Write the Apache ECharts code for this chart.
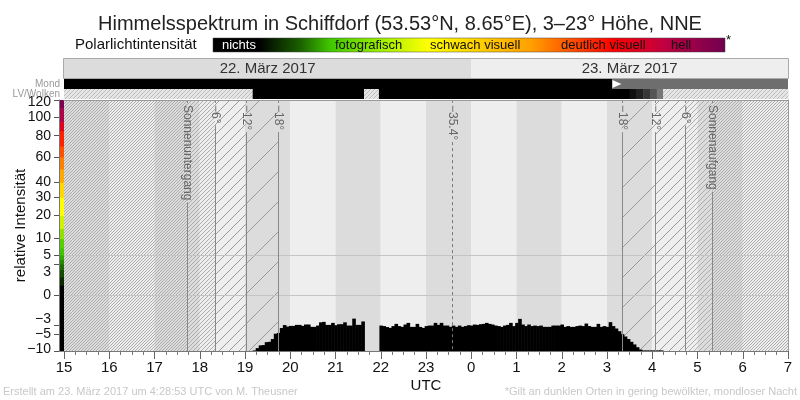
<!DOCTYPE html>
<html>
<head>
<meta charset="utf-8">
<script src="https://cdn.jsdelivr.net/npm/echarts@6/dist/echarts.min.js"></script>
<style>
html, body { margin: 0; padding: 0; background: #fff; }
#chart { width: 800px; height: 400px; }
</style>
</head>
<body>
<div id="chart"></div>
<script>
// ---- Daten ----
const hourTicks = [15, 16, 17, 18, 19, 20, 21, 22, 23, 24, 25, 26, 27, 28, 29, 30, 31];
const yTicks = [-10, -5, -3, 0, 3, 5, 10, 20, 30, 40, 60, 80, 100, 120];
const guideValues = [0, 5];

// Messwerte: 4-Minuten-Intervalle ab 19:10 UTC (null = Lücke)
const binStart = 19.17;
const binHours = 1 / 15;
const intensity = [
  -9.8, -9.0, -8.1, -8.0, -7.1, -7.0, -6.2, -4.8, -4.6, -3.5,
  -2.9, -3.2, -3.06, -3.06, -2.87, -2.87, -3.06, -2.8, -2.8, -3.26,
  -3.26, -3.0, -2.4, -2.32, -2.87, -2.87, -2.5, -2.93, -2.74, -2.74,
  -2.4, -3.0, -3.0, -1.8, -2.87, -2.87, -2.25, null, null, null,
  null, null, -3.0, -3.1, -3.3, -3.47, -3.1, -2.68, -3.1, -3.26,
  -2.8, -2.5, -3.26, -3.26, -2.68, -3.26, -3.47, -3.1, -3.0, -3.0,
  -2.5, -2.87, -2.5, -3.0, -3.0, -3.26, -3.0, -3.26, -3.0, -3.26,
  -3.1, -2.93, -3.0, -2.8, -2.87, -2.74, -2.68, -2.5, -2.68, -2.8,
  -3.0, -3.1, -3.26, -3.0, -2.87, -2.5, -3.1, -2.5, -1.84, -2.8,
  -3.1, -2.8, -3.1, -3.0, -3.1, -3.0, -3.26, -3.26, -3.26, -3.0,
  -3.0, -3.0, -2.8, -3.26, -3.1, -3.26, -3.26, -3.1, -3.0, -3.1,
  -2.62, -3.1, -3.26, -3.26, -2.68, -3.26, -3.1, -3.26, -2.37, -3.1,
  -3.6, -4.2, -4.9, -5.5, -6.2, -7.0, -7.8, -8.7, -9.5, -9.8,
  -9.8, -9.8, -9.8, -9.8, -9.8, -9.8
];

// Sonnenstand (Stunden ab 0 Uhr des 22.)
const sunEvents = [
  [17.725, 'Sonnenuntergang', false],
  [18.337, '\u22126\u00b0', false],
  [19.015, '\u221212\u00b0', false],
  [19.737, '\u221218\u00b0', false],
  [23.568, '\u221235.4\u00b0', true],
  [27.325, '\u221218\u00b0', false],
  [28.06, '\u221212\u00b0', false],
  [28.73, '\u22126\u00b0', false],
  [29.327, 'Sonnenaufgang', false]
];
// Schraffur: [von, bis, Linienabstand]
const hatchZones = [
  [15, 17.725, 3], [17.725, 18.337, 4], [18.337, 19.015, 10], [19.015, 19.737, 30],
  [27.325, 28.06, 30], [28.06, 28.73, 10], [28.73, 29.327, 5], [29.327, 31, 3]
];

const dateSegments = [[15, 24, '22. M\u00e4rz 2017', '#dcdcdc'], [24, 31, '23. M\u00e4rz 2017', '#eeeeee']];
const moonSegments = [[15, 27.12, '#000000'], [27.12, 31, '#6e6e6e']];
const moonRise = 27.12;
// LV/Wolken: [von, bis, Farbe] (null = keine Daten, schraffiert)
const lvSegments = [
  [15, 19.17, null], [19.17, 21.63, '#000000'], [21.63, 21.96, null],
  [21.96, 27.5, '#000000'], [27.5, 27.65, '#101010'], [27.65, 27.8, '#222222'],
  [27.8, 27.95, '#383838'], [27.95, 28.1, '#555555'], [28.1, 28.24, '#777777'],
  [28.24, 31, null]
];

// Farbskala der Intensität: [von, bis, Farbe]
const scaleSteps = [
  [-10, 0.3, '#000000'], [0.3, 1, '#0a2800'], [1, 2, '#124a00'], [2, 3, '#1c6a00'],
  [3, 4, '#268a00'], [4, 5, '#30a800'], [5, 7, '#40c400'], [7, 10, '#58d000'],
  [10, 14, '#90e000'], [14, 20, '#d0f400'], [20, 30, '#ffff00'], [30, 40, '#ffd800'],
  [40, 50, '#ffa800'], [50, 60, '#ff8000'], [60, 70, '#ff5000'], [70, 85, '#ff2000'],
  [85, 95, '#e00020'], [95, 110, '#b00048'], [110, 120, '#800050']
];

// ---- Hilfsfunktionen ----
const FONT = 'Liberation Sans';
const ssqrt = v => Math.sign(v) * Math.sqrt(Math.abs(v));
const minus = v => String(v).replace('-', '\u2212');

const measureCtx = document.createElement('canvas').getContext('2d');
function textWidth(text, size) {
  measureCtx.font = size + 'px ' + FONT;
  return measureCtx.measureText(text).width;
}

function hatch(step, color, bg) {
  const c = document.createElement('canvas');
  c.width = c.height = step;
  const g = c.getContext('2d');
  if (bg) { g.fillStyle = bg; g.fillRect(0, 0, step, step); }
  g.strokeStyle = color;
  g.lineWidth = 1;
  g.beginPath();
  g.moveTo(0, step); g.lineTo(step, 0);
  g.moveTo(-1, 1); g.lineTo(1, -1);
  g.moveTo(step - 1, step + 1); g.lineTo(step + 1, step - 1);
  g.stroke();
  return { image: c, repeat: 'repeat' };
}
const patterns = {};
function pat(step) {
  if (!patterns[step]) patterns[step] = hatch(step, step > 5 ? '#9a9a9a' : '#adadad');
  return patterns[step];
}
const lvHatch = hatch(4, '#bcbcbc', '#e6e6e6');

function xPix(api, t) { return api.coord([t, 0])[0]; }

const chart = echarts.init(document.getElementById('chart'));

chart.setOption({
  animation: false,
  textStyle: { fontFamily: FONT },
  title: {
    text: 'Himmelsspektrum in Schiffdorf (53.53\u00b0N, 8.65\u00b0E), 3\u201323\u00b0 H\u00f6he, NNE',
    left: 'center', top: 9,
    textStyle: { fontSize: 20, fontWeight: 'normal', color: '#222', fontFamily: FONT }
  },
  grid: { left: 64, right: 12, top: 100, bottom: 49, containLabel: false, outerBoundsMode: 'none' },
  graphic: [
    { type: 'text', left: 75, top: 37, style: { text: 'Polarlichtintensit\u00e4t', font: '15px ' + FONT, fill: '#111' } },
    {
      type: 'rect', shape: { x: 213, y: 38, width: 512, height: 14 },
      style: {
        stroke: '#444', lineWidth: 0.5,
        fill: new echarts.graphic.LinearGradient(0, 0, 1, 0, [
          { offset: 0, color: '#000000' }, { offset: 0.09, color: '#000000' },
          { offset: 0.17, color: '#1a6000' }, { offset: 0.23, color: '#40c800' },
          { offset: 0.33, color: '#a0f000' }, { offset: 0.42, color: '#ffff00' },
          { offset: 0.62, color: '#ffa000' }, { offset: 0.78, color: '#ff0000' },
          { offset: 0.88, color: '#c00040' }, { offset: 1, color: '#700050' }
        ])
      }
    },
    { type: 'text', x: 222, y: 45, style: { text: 'nichts', font: '13px ' + FONT, fill: '#fff', verticalAlign: 'middle' } },
    { type: 'text', x: 335, y: 45, style: { text: 'fotografisch', font: '13px ' + FONT, fill: '#111', verticalAlign: 'middle' } },
    { type: 'text', x: 430, y: 45, style: { text: 'schwach visuell', font: '13px ' + FONT, fill: '#111', verticalAlign: 'middle' } },
    { type: 'text', x: 561, y: 45, style: { text: 'deutlich visuell', font: '13px ' + FONT, fill: '#111', verticalAlign: 'middle' } },
    { type: 'text', x: 671, y: 45, style: { text: 'hell', font: '13px ' + FONT, fill: '#111', verticalAlign: 'middle' } },
    { type: 'text', x: 726, y: 40, style: { text: '*', font: '13px ' + FONT, fill: '#111', verticalAlign: 'middle' } },
    { type: 'text', right: 740, top: 79, style: { text: 'Mond', font: '10px ' + FONT, fill: '#999', align: 'right' } },
    { type: 'text', right: 740, top: 89, style: { text: 'LV/Wolken', font: '10px ' + FONT, fill: '#999', align: 'right' } },
    { type: 'text', left: 3, top: 386, style: { text: 'Erstellt am 23. M\u00e4rz 2017 um 4:28:53 UTC von M. Theusner', font: '11px ' + FONT, fill: '#c8c8c8' } },
    { type: 'text', right: 3, top: 386, style: { text: '*Gilt an dunklen Orten in gering bew\u00f6lkter, mondloser Nacht', font: '11px ' + FONT, fill: '#c8c8c8', align: 'right' } }
  ],
  xAxis: [{
    type: 'value', min: 15, max: 31, interval: 1,
    name: 'UTC', nameLocation: 'middle', nameGap: 27, nameMoveOverlap: false,
    nameTextStyle: { fontSize: 15, color: '#111' },
    axisLine: { onZero: false, lineStyle: { color: '#777' } },
    axisTick: { length: 8, lineStyle: { color: '#666' } },
    minorTick: { show: true, splitNumber: 4, length: 4, lineStyle: { color: '#777' } },
    splitLine: { show: false },
    axisLabel: { fontSize: 15, color: '#111', margin: 9, formatter: v => String(v % 24) },
    z: 10
  }, {
    type: 'value', min: 15, max: 31, position: 'top',
    axisLine: { show: true, onZero: false, lineStyle: { color: '#999' } },
    axisTick: { show: false }, axisLabel: { show: false }, splitLine: { show: false }, z: 10
  }],
  yAxis: [{
    type: 'value', min: -Math.sqrt(10), max: Math.sqrt(120), offset: 5,
    name: 'relative Intensit\u00e4t', nameLocation: 'middle', nameGap: 31, nameRotate: 90,
    nameMoveOverlap: false,
    nameTextStyle: { fontSize: 15, color: '#111' },
    axisLine: { show: true, onZero: false, lineStyle: { color: '#777' } },
    axisTick: { show: true, length: 5, customValues: yTicks.map(ssqrt), lineStyle: { color: '#555' } },
    splitLine: { show: false },
    axisLabel: {
      fontSize: 14, color: '#111', margin: 8,
      customValues: yTicks.map(ssqrt),
      formatter: v => {
        const n = Math.round(Math.sign(v) * v * v);
        if (n === 3) return '{dn|3}';
        if (n === -3) return '{up|\u22123}';
        if (n === 120) return '{top|120}';
        if (n === -10) return '{bot|\u221210}';
        return minus(n);
      },
      rich: {
        dn: { fontSize: 14, color: '#111', padding: [16, 0, 0, 0] },
        up: { fontSize: 14, color: '#111', padding: [0, 0, 12, 0] },
        top: { fontSize: 14, color: '#111', padding: [5, 0, 0, 0] },
        bot: { fontSize: 14, color: '#111', padding: [0, 0, 4, 0] }
      }
    },
    z: 10
  }, {
    type: 'value', min: -Math.sqrt(10), max: Math.sqrt(120), position: 'right',
    axisLine: { show: true, onZero: false, lineStyle: { color: '#999' } },
    axisTick: { show: false }, axisLabel: { show: false }, splitLine: { show: false }, z: 10
  }],
  series: [
    // Stundenbänder
    {
      type: 'custom', z: 1, silent: true,
      data: hourTicks.slice(0, -1).map(h => [h, 0]),
      renderItem: (params, api) => {
        const cs = params.coordSys;
        const h = api.value(0);
        const x1 = xPix(api, h), x2 = xPix(api, h + 1);
        return { type: 'rect', shape: { x: x1, y: cs.y, width: x2 - x1, height: cs.height },
          style: { fill: h % 2 === 1 ? '#dcdcdc' : '#eeeeee' } };
      }
    },
    // Dämmerungsschraffur
    {
      type: 'custom', z: 2, silent: true,
      data: hatchZones.map(z => [z[0], z[1], z[2]]),
      renderItem: (params, api) => {
        const cs = params.coordSys;
        const x1 = xPix(api, api.value(0)), x2 = xPix(api, api.value(1));
        return { type: 'rect', shape: { x: x1, y: cs.y, width: x2 - x1, height: cs.height },
          style: { fill: pat(api.value(2)) } };
      }
    },
    // Hilfslinien bei 0 und 5
    {
      type: 'custom', z: 3, silent: true,
      data: guideValues.map(v => [15, ssqrt(v)]),
      renderItem: (params, api) => {
        const cs = params.coordSys;
        const y = Math.round(api.coord([15, api.value(1)])[1]) + 0.5;
        return { type: 'line', shape: { x1: cs.x, y1: y, x2: cs.x + cs.width, y2: y },
          style: { stroke: '#c4c4c4', lineWidth: 1 } };
      }
    },
    // Intensität
    {
      type: 'custom', z: 4, silent: true,
      data: intensity.map((v, i) => [binStart + i * binHours, v === null ? null : ssqrt(v)])
        .filter(d => d[1] !== null),
      renderItem: (params, api) => {
        const t = api.value(0);
        const p1 = api.coord([t, api.value(1)]);
        const p2 = api.coord([t + binHours, -Math.sqrt(10)]);
        return { type: 'rect', shape: { x: p1[0], y: p1[1], width: p2[0] - p1[0] + 0.6, height: p2[1] - p1[1] },
          style: { fill: '#000' } };
      }
    },
    // Sonnenstand-Linien
    {
      type: 'custom', z: 5, silent: true,
      data: sunEvents.map(e => [e[0], 0]),
      renderItem: (params, api) => {
        const cs = params.coordSys;
        const ev = sunEvents[params.dataIndex];
        const x = Math.round(xPix(api, ev[0])) + 0.5;
        const top = cs.y, bottom = cs.y + cs.height;
        const tStart = top + 5;
        const tEnd = tStart + textWidth(ev[1], 12) + 2;
        return { type: 'group', children: [
          { type: 'line', shape: { x1: x, y1: top, x2: x, y2: top + 3 }, style: { stroke: '#888', lineWidth: 1 } },
          { type: 'text', x: x, y: tStart, rotation: -Math.PI / 2,
            style: { text: ev[1], x: 0, y: 0, fill: '#666', font: '12px ' + FONT, align: 'left', verticalAlign: 'middle' } },
          { type: 'line', shape: { x1: x, y1: tEnd, x2: x, y2: bottom },
            style: { stroke: ev[2] ? '#777' : '#888', lineWidth: 1, lineDash: ev[2] ? [3, 3] : null } }
        ] };
      }
    },
    // Kopfzeilen: Datum, Mond, LV/Wolken
    {
      type: 'custom', z: 6, silent: true, clip: false,
      data: [[15, 0]],
      renderItem: (params, api) => {
        const cs = params.coordSys;
        const children = [];
        dateSegments.forEach(s => {
          const x1 = xPix(api, s[0]), x2 = xPix(api, s[1]);
          children.push({ type: 'rect', shape: { x: x1, y: cs.y - 41, width: x2 - x1, height: 20 }, style: { fill: s[3] } });
          children.push({ type: 'text', x: (x1 + x2) / 2, y: cs.y - 31,
            style: { text: s[2], fill: '#333', font: '15px ' + FONT, align: 'center', verticalAlign: 'middle' } });
        });
        children.push({ type: 'rect', shape: { x: cs.x - 0.5, y: cs.y - 41.5, width: cs.width + 1, height: 20 },
          style: { fill: 'none', stroke: '#aaa', lineWidth: 1 } });
        moonSegments.forEach(s => {
          const x1 = xPix(api, s[0]), x2 = xPix(api, s[1]);
          children.push({ type: 'rect', shape: { x: x1, y: cs.y - 21, width: x2 - x1, height: 10 }, style: { fill: s[2] } });
        });
        const mx = xPix(api, moonRise);
        children.push({ type: 'polygon', shape: { points: [[mx, cs.y - 20], [mx + 9, cs.y - 16], [mx, cs.y - 12]] },
          style: { fill: '#fff' } });
        lvSegments.forEach(s => {
          const x1 = xPix(api, s[0]), x2 = xPix(api, s[1]);
          children.push({ type: 'rect', shape: { x: x1, y: cs.y - 11, width: x2 - x1 + 0.5, height: 10 },
            style: { fill: s[2] === null ? lvHatch : s[2] } });
        });
        return { type: 'group', children };
      }
    },
    // Farbskala an der y-Achse
    {
      type: 'custom', z: 6, silent: true, clip: false,
      data: scaleSteps.map(s => [15, ssqrt(s[0]), ssqrt(s[1])]),
      renderItem: (params, api) => {
        const cs = params.coordSys;
        const y1 = api.coord([15, api.value(2)])[1];
        const y2 = api.coord([15, api.value(1)])[1];
        return { type: 'rect', shape: { x: cs.x - 5, y: y1, width: 5, height: y2 - y1 + 0.5 },
          style: { fill: scaleSteps[params.dataIndex][2] } };
      }
    }
  ]
});
</script>
</body>
</html>
